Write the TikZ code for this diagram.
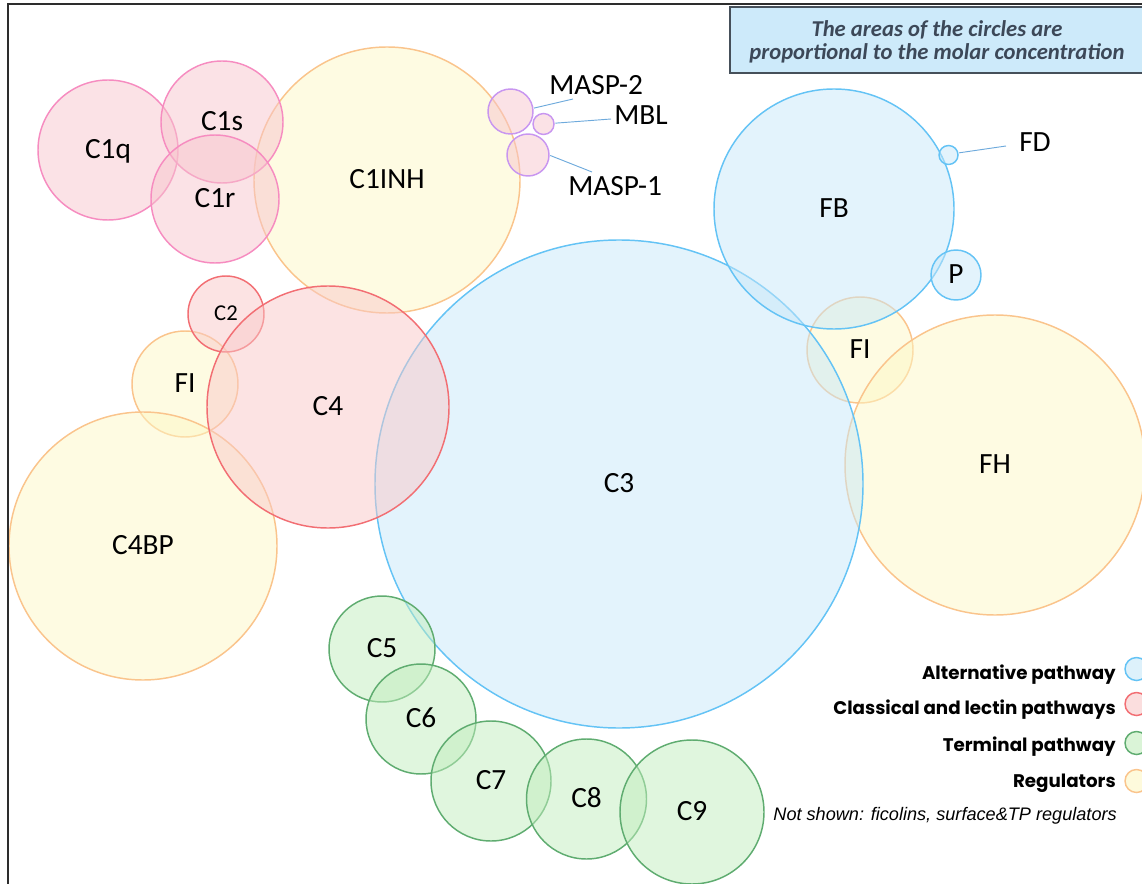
\documentclass[tikz,border=0pt]{standalone}
\usepackage{fontspec}
\setmainfont{Carlito}
\newfontfamily\legfont{Poppins}
\newfontfamily\notefont{Liberation Sans}
\usetikzlibrary{calc}
\definecolor{altline}{RGB}{100,195,245}
\definecolor{altfill}{RGB}{199,231,249}
\definecolor{c1line}{RGB}{246,140,192}
\definecolor{c1fill}{RGB}{247,197,205}
\definecolor{clline}{RGB}{242,110,115}
\definecolor{clfill}{RGB}{249,200,200}
\definecolor{tline}{RGB}{95,172,112}
\definecolor{tfill}{RGB}{193,237,189}
\definecolor{rline}{RGB}{250,196,140}
\definecolor{rfill}{RGB}{253,247,197}
\definecolor{mline}{RGB}{200,150,240}
\definecolor{conn}{RGB}{110,170,220}
\definecolor{titlefill}{RGB}{205,234,250}
\definecolor{titletext}{RGB}{60,72,88}
\definecolor{titleline}{RGB}{70,80,90}
\definecolor{framecol}{RGB}{45,45,45}
\begin{document}
\begin{tikzpicture}[x=0.75pt,y=-0.75pt,
  bub/.style={circle, draw, line width=1.1pt, inner sep=0pt, outer sep=0pt,
    fill opacity=0.5, text opacity=1, font=\fontsize{22}{26}\selectfont,
    text height=13pt, text depth=0pt},
  rad/.style={minimum size=#1*1.5pt},
  alt/.style={bub, draw=altline, fill=altfill},
  cq/.style={bub, draw=c1line, fill=c1fill},
  cl/.style={bub, draw=clline, fill=clfill},
  term/.style={bub, draw=tline, fill=tfill},
  reg/.style={bub, draw=rline, fill=rfill},
  masp/.style={bub, draw=mline, fill=c1fill},
  lbl/.style={inner sep=0pt, font=\fontsize{22}{26}\selectfont},
  conline/.style={draw=conn, line width=0.7pt, shorten <=1pt},
  legtext/.style={inner sep=0pt, anchor=base east, font=\legfont\bfseries\fontsize{13.7}{15}\selectfont},
  legcirc/.style={circle, line width=1.1pt, inner sep=0pt, minimum size=23*0.75pt},
]
\useasboundingbox (0,0) rectangle (1142,884);
\clip (0,0) rectangle (1142,884);

% alternative pathway & right regulators
\node[reg, rad=53] (fir) at (860,350) {FI};
\node[reg, rad=150] (fh) at (995,465) {FH};
\node[alt, rad=244] (c3) at (619,484) {C3};
\node[alt, rad=120] (fb) at (834,209) {FB};
\node[alt, rad=25] (p) at (956,275) {P};
\node[alt, rad=9.5] (fd) at (948.5,155) {};

% C1 complex
\node[reg, rad=133] (c1inh) at (387,180) {C1INH};
\node[cq, rad=70] (c1q) at (108,150) {C1q};
\node[cq, rad=61] (c1s) at (222,122) {C1s};
\node[cq, rad=64] (c1r) at (215,199) {C1r};
\node[masp, rad=22.5] (masp2) at (510.5,111.5) {};
\node[masp, rad=10.5] (mbl) at (543.5,124) {};
\node[masp, rad=21] (masp1) at (528,155) {};

% classical / regulators left
\node[reg, rad=53] (fil) at (185,384) {FI};
\node[reg, rad=134] (c4bp) at (143,546) {C4BP};
\node[cl, rad=38, font=\fontsize{17}{20}\selectfont, text height=10pt] (c2) at (226,314) {C2};
\node[cl, rad=121] (c4) at (328,407) {C4};

% terminal pathway
\node[term, rad=53] (c5) at (382,649) {C5};
\node[term, rad=55] (c6) at (421,719) {C6};
\node[term, rad=60] (c7) at (491,781) {C7};
\node[term, rad=60] (c8) at (586.5,799) {C8};
\node[term, rad=72] (c9) at (692,812) {C9};

% external labels
\node[lbl, anchor=base west] (masp2l) at (549,95) {MASP-2};
\node[lbl, anchor=base west] (mbll) at (614,125) {MBL};
\node[lbl, anchor=base west] (masp1l) at (568,196) {MASP-1};
\node[lbl, anchor=base west] (fdl) at (1019,152) {FD};
\draw[conline] (masp2.8) -- ($(masp2l.base west)+(24,4)$);
\draw[conline] (mbl.4) -- ($(mbll.base west)+(-3,-6)$);
\draw[conline] (masp1.0) -- ($(masp1l.base west)+(24,-24)$);
\draw[conline] (fd.12) -- ($(fdl.base west)+(-13,-6)$);

% frame
\draw[framecol, line width=1.6pt] (8,900) -- (8,4) -- (1160,4);

% title
\node[draw=titleline, line width=1.2pt, fill=titlefill, minimum width=414*0.75pt,
  minimum height=66*0.75pt, inner sep=0pt] (titlebox) at (937,40) {};
\node[align=center, text=titletext, inner sep=0pt, anchor=base,
  font=\bfseries\itshape\fontsize{17}{17.3}\selectfont] (title) at (937,60)
  {The areas of the circles are\\proportional to the molar concentration};

% legend
\node[legtext] (l1) at (1116,679) {Alternative pathway};
\node[legtext] (l2) at (1116,714) {Classical and lectin pathways};
\node[legtext] (l3) at (1116,751) {Terminal pathway};
\node[legtext] (l4) at (1116,787) {Regulators};
\node[legcirc, draw=altline, fill=altfill!60] (k1) at (1136.5,669) {};
\node[legcirc, draw=clline, fill=clfill!60] (k2) at (1136.5,704) {};
\node[legcirc, draw=tline, fill=tfill!60] (k3) at (1136.5,743) {};
\node[legcirc, draw=rline, fill=rfill!60] (k4) at (1136.5,781) {};
\node[inner sep=0pt, anchor=base east, font=\notefont\itshape\fontsize{13.6}{15}\selectfont] (note) at (1117,820) {Not shown: ficolins, surface\&TP regulators};
\end{tikzpicture}
\end{document}
